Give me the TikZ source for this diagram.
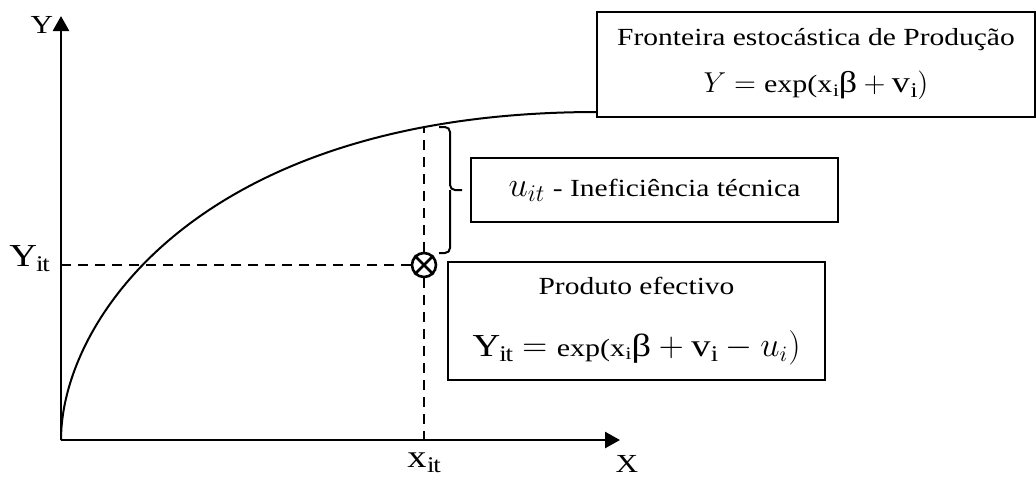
\documentclass[tikz,border=0pt]{standalone}
\usepackage{fontspec}
\setmainfont{Liberation Serif}[FakeStretch=1.2]
\usetikzlibrary{arrows.meta}
\newcommand{\rsub}[2]{\mathrm{#1}_{\mkern3mu\mathrm{#2}}}
\begin{document}
\begin{tikzpicture}[x=0.5pt,y=-0.5pt,
  axis/.style={line width=1.3pt,-{Triangle[length=7.5pt,width=8pt]}},
  curve/.style={line width=1pt},
  guide/.style={line width=0.9pt,dash pattern=on 5pt off 3.5pt},
  box/.style={draw,line width=0.9pt,inner sep=0pt,align=center},
  lbl/.style={inner sep=0pt},
  brc/.style={line width=1pt,rounded corners=2.5pt}]
\useasboundingbox (0,0) rectangle (1036,479);
% axes
\coordinate (O) at (61,440);
\coordinate (Ytip) at (61,16);
\coordinate (Xtip) at (620,440);
\draw[axis] (O) -- (Ytip);
\draw[axis] (O) -- (Xtip);
% boxes
\node[box,minimum width=219pt,minimum height=52.5pt,font=\fontsize{12.3}{23.5}\selectfont] (fr) at (816,64.5)
  {Fronteira estocástica de Produção\\
   {\fontsize{15}{17}\selectfont$Y = \mbox{\fontsize{12.5}{14}\selectfont exp($\rsub{x}{i}$}\mbox{β} + \rsub{v}{i})$}};
\node[box,minimum width=183.5pt,minimum height=32pt,font=\fontsize{12.3}{14}\selectfont] (ui) at (654.5,190)
  {{\fontsize{17}{19}\selectfont$u_{it}$}\ - Ineficiência técnica};
\node[box,minimum width=188.5pt,minimum height=59pt,font=\fontsize{12.3}{31}\selectfont] (pe) at (636.5,321)
  {Produto efectivo\\
   {\fontsize{16}{18}\selectfont$\rsub{Y}{it} = \mbox{\fontsize{12.5}{14}\selectfont exp($\rsub{x}{i}$}\mbox{β} + \rsub{v}{i} - u_i)$}};
% frontier curve
\coordinate (Cend) at (597,112);
\draw[curve] (O) .. controls (61,320) and (200,112) .. (Cend);
% observed point
\node[circle,draw,line width=1.3pt,minimum size=12pt,inner sep=0pt] (P) at (424,265) {};
\draw[line width=1.3pt] (P.north west) -- (P.south east) (P.north east) -- (P.south west);
\coordinate (Yaxpt) at (61,265);
\coordinate (Xaxpt) at (424,440);
\coordinate (Ctop) at (424,128);
\draw[guide] (Yaxpt) -- (P.west);
\draw[guide] (P.south) -- (Xaxpt);
\draw[guide] (P.north) -- (Ctop);
% brace
\coordinate (Btop) at (439,127);
\coordinate (Bbot) at (439,253);
\coordinate (Btip) at (462,190);
\draw[brc] (Btop) -- (450,127) -- (450,190) -- (Btip);
\draw[brc] (Bbot) -- (450,253) -- (450,190);
% labels
\node[lbl,anchor=base] (Ylab) at (42,33) {\fontsize{13}{15}\selectfont Y};
\node[lbl,anchor=base] (Xlab) at (627,472) {\fontsize{13}{15}\selectfont X};
\node[lbl,anchor=base east] (Yit) at (50,266) {\fontsize{16}{18}\selectfont$\rsub{Y}{it}$};
\node[lbl,anchor=base] (xit) at (424,467) {\fontsize{16}{18}\selectfont$\rsub{x}{it}$};
\end{tikzpicture}
\end{document}
